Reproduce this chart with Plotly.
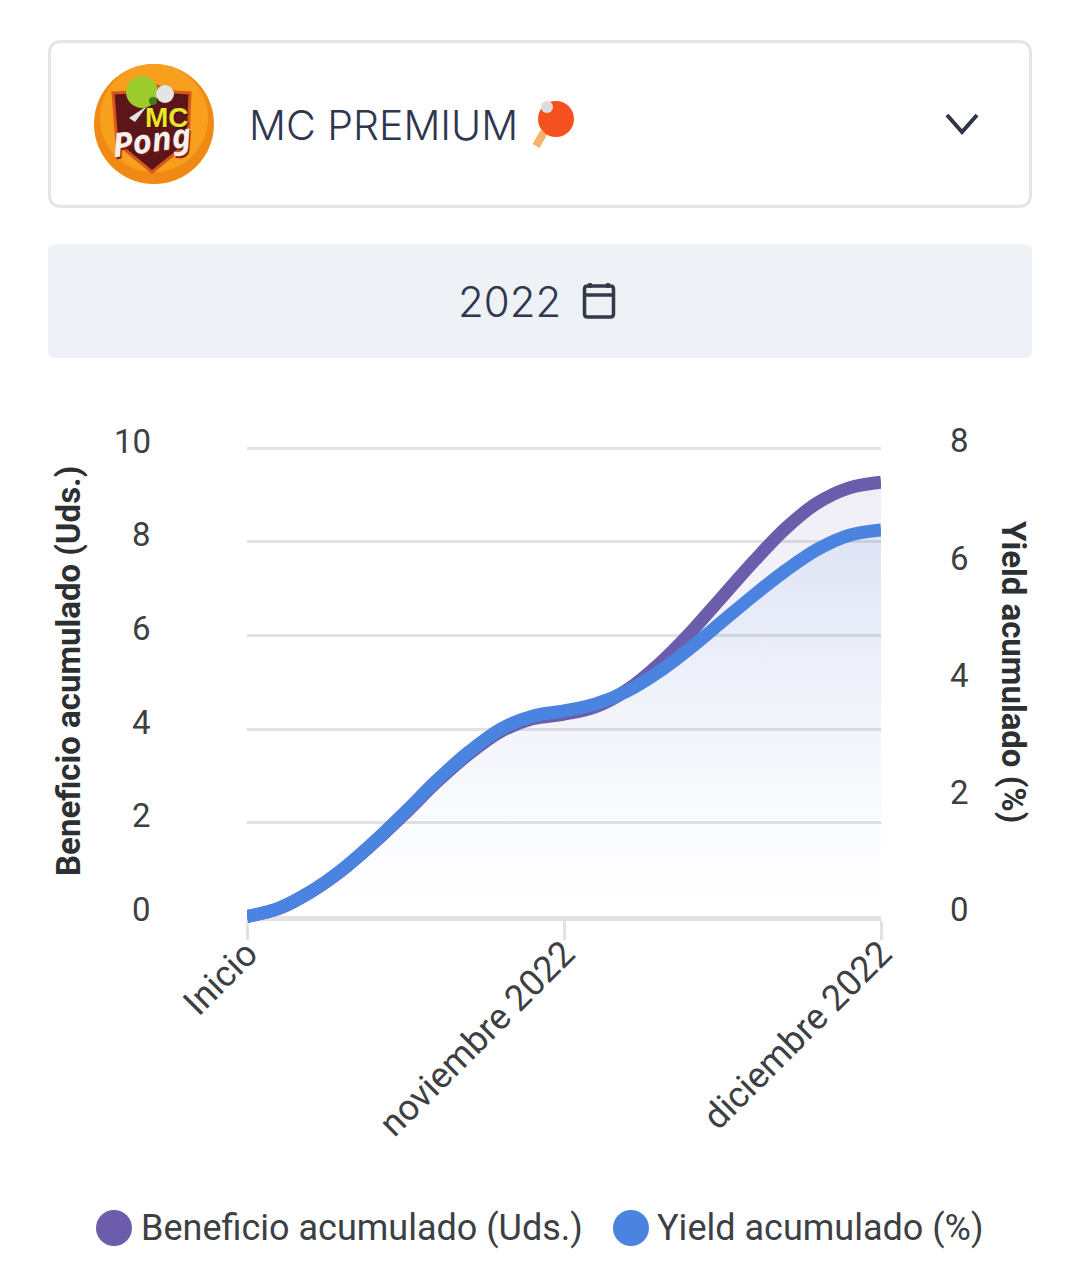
import plotly.graph_objects as go

# chart values
x_pos = [0, 0.1, 0.2, 0.3, 0.4, 0.5, 0.6, 0.7, 0.8, 0.9, 1.0,
         1.1, 1.2, 1.3, 1.4, 1.5, 1.6, 1.7, 1.8, 1.9, 2.0]
beneficio = [0, 0.17, 0.52, 0.99, 1.57, 2.21, 2.88, 3.47, 3.95, 4.22, 4.32,
             4.48, 4.84, 5.39, 6.07, 6.83, 7.59, 8.29, 8.83, 9.15, 9.27]
yield_pct = [0, 0.14, 0.42, 0.80, 1.27, 1.79, 2.33, 2.81, 3.20, 3.42, 3.51,
             3.63, 3.85, 4.18, 4.59, 5.04, 5.49, 5.91, 6.27, 6.51, 6.60]
x_ticks = [0, 1, 2]
x_labels = ["Inicio", "noviembre 2022", "diciembre 2022"]
left_ticks = [0, 2, 4, 6, 8, 10]
right_ticks = [0, 2, 4, 6, 8]
name_left = "Beneficio acumulado (Uds.)"
name_right = "Yield acumulado (%)"

PURPLE = "#6b5dac"
BLUE = "#4a84e0"
GRID = "#e2e2e4"
TEXT = "#3c4043"
NAVY = "#2f3650"

# plot area in page pixels
L, R, T, B = 247, 881, 443, 924


def px(x):
    return (x - L) / (R - L)


def py(y):
    return (B - y) / (B - T)


def round_rect(x0, y0, x1, y1, r):
    return (
        f"M {px(x0 + r)} {py(y0)} L {px(x1 - r)} {py(y0)} Q {px(x1)} {py(y0)} {px(x1)} {py(y0 + r)} "
        f"L {px(x1)} {py(y1 - r)} Q {px(x1)} {py(y1)} {px(x1 - r)} {py(y1)} "
        f"L {px(x0 + r)} {py(y1)} Q {px(x0)} {py(y1)} {px(x0)} {py(y1 - r)} "
        f"L {px(x0)} {py(y0 + r)} Q {px(x0)} {py(y0)} {px(x0 + r)} {py(y0)} Z"
    )


def poly(points, close=False):
    d = " L ".join(f"{px(a)} {py(b)}" for a, b in points)
    return "M " + d + (" Z" if close else "")


def path(d, fill=None, line=None, width=0):
    return dict(type="path", xref="paper", yref="paper", path=d,
                fillcolor=fill or "rgba(0,0,0,0)",
                line=dict(color=line or "rgba(0,0,0,0)", width=width))


def circle(cx, cy, r, fill):
    return dict(type="circle", xref="paper", yref="paper", x0=px(cx - r), x1=px(cx + r),
                y0=py(cy + r), y1=py(cy - r), fillcolor=fill, line=dict(width=0))


def label(text, x, y, size, color=TEXT, anchor="center", **kw):
    font = dict(family=kw.pop("family", "Roboto"), size=size, color=color)
    font.update(kw.pop("font", {}))
    return dict(text=text, xref="paper", yref="paper", x=px(x), y=py(y), xanchor=anchor,
                yanchor="middle", showarrow=False, font=font, **kw)


def fade(rgb):
    return [[0, f"rgba({rgb},0)"], [0.12, f"rgba({rgb},0.005)"],
            [0.5, f"rgba({rgb},0.04)"], [1, f"rgba({rgb},0.11)"]]


fig = go.Figure()

fig.add_trace(go.Scatter(
    x=x_pos, y=beneficio, name=name_left, mode="lines", yaxis="y",
    line=dict(color=PURPLE, width=13, shape="spline", smoothing=1),
    fill="tozeroy",
    fillgradient=dict(type="vertical", colorscale=fade("107,93,172")),
))
fig.add_trace(go.Scatter(
    x=x_pos, y=yield_pct, name=name_right, mode="lines", yaxis="y2",
    line=dict(color=BLUE, width=13, shape="spline", smoothing=1),
    fill="tozeroy",
    fillgradient=dict(type="vertical", colorscale=fade("74,132,224")),
))

shapes = [
    # selector card
    path(round_rect(49.5, 41.5, 1030.5, 206.5, 12), fill="white", line="#e3e5e7", width=3),
    # year bar
    path(round_rect(48, 244, 1032, 358, 8), fill="#eef1f6"),
    # chevron
    path(poly([(947, 115), (962, 132), (977, 115)]), line="#2f3447", width=4),
    # calendar icon
    path(round_rect(584.5, 286, 613.5, 317, 3), line="#333a4a", width=3.5),
    path(poly([(584.5, 295), (613.5, 295)]), line="#333a4a", width=3.5),
    path(poly([(590, 283), (590, 288)]), line="#333a4a", width=3.5),
    path(poly([(608, 283), (608, 288)]), line="#333a4a", width=3.5),
    # logo
    circle(154, 124, 60, "#f08a14"),
    circle(154, 118, 54, "#f89f1e"),
    path(poly([(113, 93), (133, 92), (154, 85), (175, 92), (190, 93), (188, 143), (152, 172), (117, 143)], True),
         fill="#5c1518", line="#d8561a", width=3),
    path(poly([(129, 118), (147, 106), (135, 122)]), fill="#dfe3e6"),
    circle(142, 92, 16, "#9ccb2c"),
    circle(153, 101, 4, "#3f7d1e"),
    circle(165, 94, 9, "#e4e4e4"),
    # paddle emoji
    path(poly([(544, 132), (536, 146)]), line="#f4b26a", width=8),
    circle(556, 119, 18, "#f4511e"),
    circle(547, 107, 6, "#dcdcdc"),
    # legend dots
    circle(114, 1228, 18, PURPLE),
    circle(631, 1228, 18, BLUE),
]

annotations = [
    label("MC", 167, 117, 28, "#e8e52a", family="Liberation Sans", font=dict(weight=700, shadow="1px 1px 1px #3a1010")),
    label("Pong", 151, 139, 33, "#f4f0ee", family="Noto Sans", textangle=-8,
          font=dict(weight=700, style="italic", shadow="1px 2px 1px #7a1a14")),
    label("MC PREMIUM", 247, 125, 41, NAVY, anchor="left", family="Inter", font=dict(weight=300)),
    label("2022", 509, 301, 42, NAVY, family="Inter", font=dict(weight=300)),
    label(name_left, 68, 671, 33, "#2d3033", textangle=-90, font=dict(weight=700)),
    label(name_right, 1014, 672, 33, "#2d3033", textangle=90, font=dict(weight=700)),
    label(name_left, 139, 1228, 36, anchor="left"),
    label(name_right, 655, 1228, 36, anchor="left"),
]

# value labels sit a little above their grid lines
for v in left_ticks:
    annotations.append(dict(text=str(v), xref="paper", yref="y", x=px(153), y=v, xanchor="right",
                            yanchor="middle", yshift=7, showarrow=False,
                            font=dict(family="Roboto", size=33, color=TEXT)))
for v in right_ticks:
    annotations.append(dict(text=str(v), xref="paper", yref="y2", x=px(948), y=v, xanchor="left",
                            yanchor="middle", yshift=7, showarrow=False,
                            font=dict(family="Roboto", size=33, color=TEXT)))

fig.update_layout(
    width=1080, height=1278,
    margin=dict(l=L, r=1080 - R, t=T, b=1278 - B),
    paper_bgcolor="white", plot_bgcolor="white",
    showlegend=False,
    shapes=shapes,
    annotations=annotations,
    xaxis=dict(range=[0, 2], tickvals=x_ticks, ticktext=x_labels, tickangle=-45,
               anchor="free", position=py(918), showgrid=False, zeroline=False,
               showline=True, linecolor=GRID, linewidth=5, layer="below traces",
               ticks="outside", ticklen=19, tickwidth=3, tickcolor=GRID, ticklabelstandoff=-22,
               tickfont=dict(family="Roboto", size=36, color=TEXT)),
    yaxis=dict(range=[-0.16, 10.107], tickvals=left_ticks[1:], showticklabels=False, ticks="",
               showgrid=True, gridcolor=GRID, gridwidth=3, zeroline=False, showline=False),
    yaxis2=dict(range=[-0.128, 8.085], overlaying="y", side="right", showticklabels=False, ticks="",
                showgrid=False, zeroline=False, showline=False),
)

# the page's default body margin would push the figure off by 8px
fig.write_html("out.html", config={"displayModeBar": False},
               post_script="document.body.style.margin='0';")
